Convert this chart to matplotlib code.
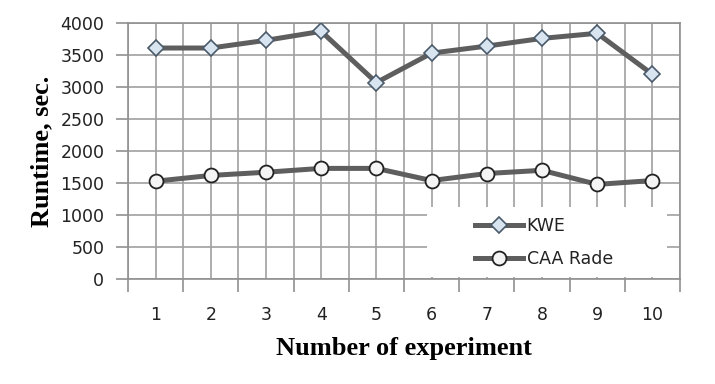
import matplotlib
matplotlib.use("Agg")
from matplotlib import pyplot as plt
from matplotlib.patches import Rectangle
from matplotlib.ticker import MultipleLocator

experiments = [1, 2, 3, 4, 5, 6, 7, 8, 9, 10]
kwe = [3610, 3610, 3730, 3870, 3070, 3530, 3640, 3760, 3840, 3200]
caa_rade = [1530, 1620, 1670, 1730, 1730, 1540, 1650, 1700, 1480, 1540]

fig = plt.figure(figsize=(7.15, 3.84), dpi=100)
ax = fig.add_axes([0.179, 0.273, 0.772, 0.667])

line_col = '#5e5e5e'
ax.plot(experiments, kwe, color=line_col, lw=3.6, marker='D', ms=8.5,
        mfc='#d8e4f0', mec='#4a5a6a', mew=1.2, label='KWE', zorder=3)
ax.plot(experiments, caa_rade, color=line_col, lw=3.6, marker='o', ms=10,
        mfc='#f4f4f4', mec='#222222', mew=1.3, label='CAA Rade', zorder=3)

ax.set_xlim(0.5, 10.5)
ax.set_ylim(0, 4000)
ax.yaxis.set_major_locator(MultipleLocator(500))
ax.set_xticks([x + 0.5 for x in range(0, 11)])
ax.set_xticks(experiments, minor=True)
ax.set_xticklabels([])
ax.set_xticklabels([str(x) for x in experiments], minor=True)
ax.grid(which='both', color='#a0a0a0', lw=1.2)
ax.set_axisbelow(True)

ax.tick_params(axis='x', which='major', length=9, width=1.2, color='#909090')
ax.tick_params(axis='x', which='minor', length=0, pad=19, labelsize=12.5, labelcolor='#222222')
ax.tick_params(axis='y', length=9, width=1.2, color='#909090', pad=8, labelsize=12.5,
               labelcolor='#222222')
for side in ['left', 'bottom', 'top', 'right']:
    ax.spines[side].set_color('#909090')
    ax.spines[side].set_linewidth(1.2)

ax.set_xlabel('Number of experiment', family='Liberation Serif', fontweight='bold',
              fontsize=19, labelpad=10)
ax.set_ylabel('Runtime, sec.', family='Liberation Serif', fontweight='bold',
              fontsize=19, labelpad=5)

# white legend area covering the grid
ax.add_patch(Rectangle((0.542, 0.01), 0.435, 0.27, transform=ax.transAxes,
                       facecolor='white', edgecolor='none', zorder=2))

leg = ax.legend(loc='center left', bbox_to_anchor=(0.629, 0.143), fontsize=12.5,
                frameon=False, borderpad=0, borderaxespad=0, handlelength=2.76,
                handletextpad=0.2, labelspacing=0.85)
leg.set_zorder(5)
for t in leg.get_texts():
    t.set_color('#222222')

plt.savefig('out.png', dpi=100)
